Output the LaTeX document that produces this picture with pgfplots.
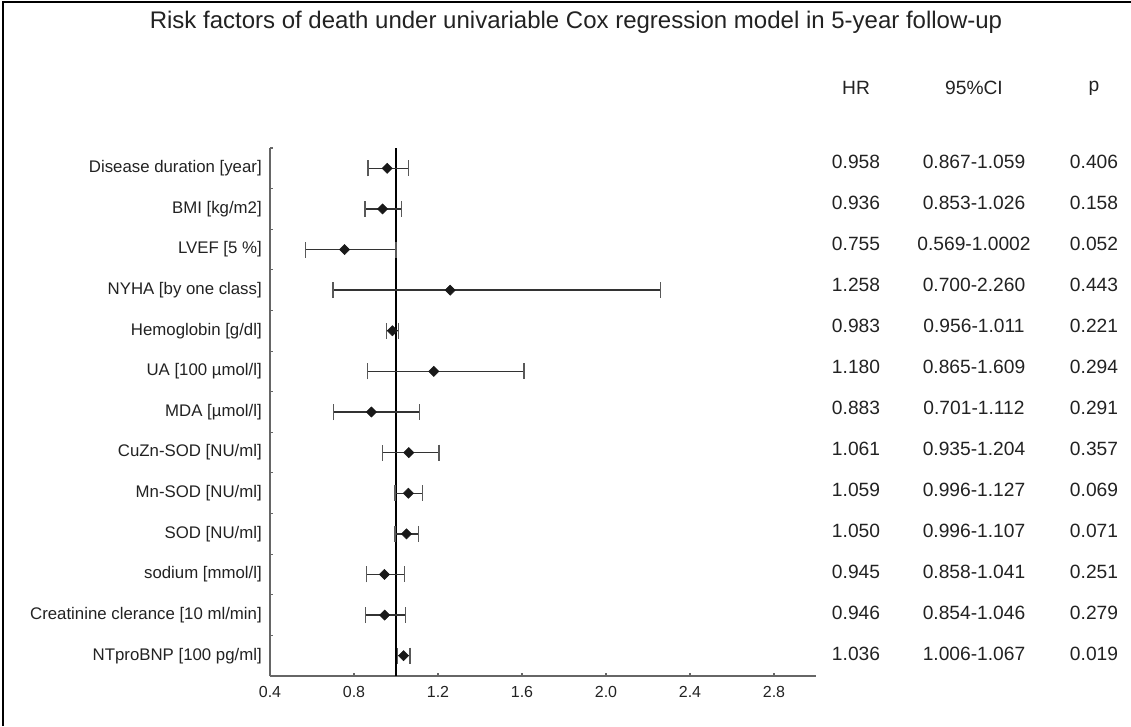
\documentclass[border=0pt]{standalone}
\usepackage{pgfplots}
\pgfplotsset{compat=1.18}
\usepackage{fontspec}
\setmainfont{Liberation Sans}
\definecolor{txt}{HTML}{222222}
\definecolor{ax}{HTML}{666666}
\begin{document}
\begin{tikzpicture}[x=0.75pt,y=0.75pt]
\useasboundingbox (0,0) rectangle (1131,726);
\draw[line width=1.6pt,black] (3,0) -- (3,724) -- (1131,724);
% title and headers
\node[txt,font=\fontsize{18}{20}\selectfont] at (576,704) {Risk factors of death under univariable Cox regression model in 5-year follow-up};
\begin{scope}[every node/.style={txt,font=\fontsize{14.4}{16}\selectfont}]
\node at (856,638) {HR};
\node at (974,638) {95\%CI};
\node at (1094,638) {p};
\end{scope}
\begin{axis}[
  at={(202.5pt,37.5pt)}, anchor=south west, scale only axis,
  width=409.5pt, height=396pt,
  xmin=0.4, xmax=3.0, ymin=0.5, ymax=13.5,
  axis x line=bottom, axis y line=left,
  axis line style={draw=ax, line width=1.1pt, -},
  tick align=inside, major tick length=2.5pt,
  tick style={draw=ax, line width=0.8pt},
  xtick={0.4,0.8,1.2,1.6,2.0,2.4,2.8},
  xticklabels={0.4,0.8,1.2,1.6,2.0,2.4,2.8},
  xticklabel style={txt, font=\fontsize{12}{14}\selectfont, yshift=-4pt},
  ytick={0.5,1.5,...,13.5}, yticklabels={},
  extra y ticks={1,2,3,4,5,6,7,8,9,10,11,12,13},
  extra y tick labels={NTproBNP [100 pg/ml],Creatinine clerance [10 ml/min],sodium [mmol/l],SOD [NU/ml],Mn-SOD [NU/ml],CuZn-SOD [NU/ml],MDA [µmol/l],UA [100 µmol/l],Hemoglobin [g/dl],NYHA [by one class],LVEF [5 \%],BMI [kg/m2],Disease duration [year]},
  extra y tick style={major tick length=0pt, yticklabel style={txt, font=\fontsize{12.6}{14}\selectfont, anchor=east, inner sep=0pt, xshift=-6pt}},
  clip=false,
]
\addplot[black, line width=1.1pt] coordinates {(1,0.5) (1,13.5)};
\addplot[draw=none, mark=none,
  error bars/.cd, x dir=both, x explicit,
  error bar style={black!80, line width=1pt},
  error mark=|,
  error mark options={black!65, line width=1pt, mark size=6pt}]
  table[x=hr, y=row, x error plus expr=\thisrow{hi}-\thisrow{hr}, x error minus expr=\thisrow{hr}-\thisrow{lo}] {
row hr lo hi
13 0.958 0.867 1.059
12 0.936 0.853 1.026
11 0.755 0.569 1.0002
10 1.258 0.700 2.260
9 0.983 0.956 1.011
8 1.180 0.865 1.609
7 0.883 0.701 1.112
6 1.061 0.935 1.204
5 1.059 0.996 1.127
4 1.050 0.996 1.107
3 0.945 0.858 1.041
2 0.946 0.854 1.046
1 1.036 1.006 1.067
};
\addplot[only marks, mark=square*, mark size=2.7pt, mark options={rotate=45, fill=black!90, draw=black!90}]
  table[x=hr, y=row] {
row hr
13 0.958
12 0.936
11 0.755
10 1.258
9 0.983
8 1.180
7 0.883
6 1.061
5 1.059
4 1.050
3 0.945
2 0.946
1 1.036
};
\end{axis}
\begin{scope}[every node/.style={txt,font=\fontsize{14.4}{16}\selectfont}]
\foreach \i/\a/\b/\c in {0/0.958/0.867-1.059/0.406, 1/0.936/0.853-1.026/0.158, 2/0.755/0.569-1.0002/0.052, 3/1.258/0.700-2.260/0.443, 4/0.983/0.956-1.011/0.221, 5/1.180/0.865-1.609/0.294, 6/0.883/0.701-1.112/0.291, 7/1.061/0.935-1.204/0.357, 8/1.059/0.996-1.127/0.069, 9/1.050/0.996-1.107/0.071, 10/0.945/0.858-1.041/0.251, 11/0.946/0.854-1.046/0.279, 12/1.036/1.006-1.067/0.019}{
  \pgfmathsetmacro{\yy}{726-162-41*\i}
  \node at (856,\yy) {\a};
  \node at (974,\yy) {\b};
  \node at (1094,\yy) {\c};
}
\end{scope}
\end{tikzpicture}
\end{document}
